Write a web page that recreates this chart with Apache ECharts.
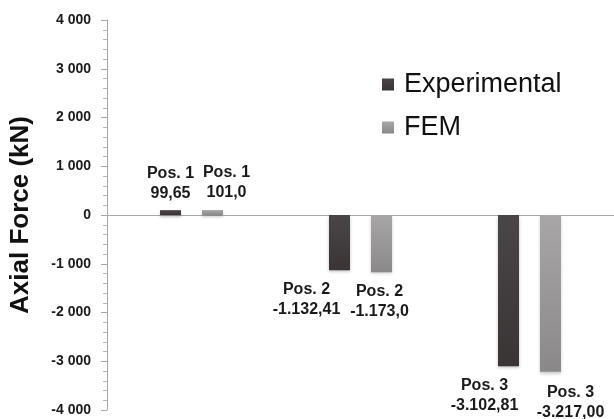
<!DOCTYPE html>
<html>
<head>
<meta charset="utf-8">
<script src="https://cdn.jsdelivr.net/npm/echarts@6/dist/echarts.min.js"></script>
<style>
  html, body { margin: 0; padding: 0; background: #fff; }
  #chart { width: 614px; height: 419px; }
</style>
</head>
<body>
<div id="chart"></div>
<script>
// data
var positions = ["Pos. 1", "Pos. 2", "Pos. 3"];
var experimental = [99.65, -1132.41, -3102.81];
var fem = [101.0, -1173.0, -3217.0];
var experimentalText = ["99,65", "-1.132,41", "-3.102,81"];
var femText = ["101,0", "-1.173,0", "-3.217,00"];
var yTicks = [-4000, -3000, -2000, -1000, 0, 1000, 2000, 3000, 4000];

// label nudges (px), to sit like the original
var expOffsets = [[0, 0], [-33, 2], [-24, 2]];
var femOffsets = [[14, 0], [-2, 2], [20, 4]];

var chart = echarts.init(document.getElementById("chart"));

function tickFmt(v) {
  var s = Math.abs(v).toString();
  if (s.length > 3) s = s.slice(0, s.length - 3) + " " + s.slice(-3);
  return (v < 0 ? "-" : "") + s;
}

function makeData(values, texts, offsets) {
  return values.map(function (v, i) {
    return {
      value: v,
      label: {
        position: v >= 0 ? "top" : "bottom",
        offset: offsets[i],
        formatter: positions[i] + "\n" + texts[i],
      },
    };
  });
}

var labelStyle = {
  show: true,
  color: "#1a1a1a",
  fontFamily: "Liberation Sans",
  fontWeight: "bold",
  fontSize: 16,
  lineHeight: 20,
  distance: 7,
};

var option = {
  animation: false,
  backgroundColor: "#fff",
  legend: {
    orient: "vertical",
    left: 377,
    top: 66,
    icon: "rect",
    itemWidth: 12,
    itemHeight: 12,
    itemGap: 16,
    textStyle: {
      fontFamily: "Liberation Sans",
      fontSize: 27,
      color: "#111",
      padding: [0, 0, 0, 5],
    },
    data: ["Experimental", "FEM"],
  },
  grid: {
    left: 107,
    top: 20,
    width: 512,
    height: 390,
  },
  xAxis: {
    type: "category",
    data: positions,
    axisLine: { onZero: true, lineStyle: { color: "#a8a8a8", width: 1 } },
    axisTick: { show: false },
    axisLabel: { show: false },
    splitLine: { show: false },
  },
  yAxis: {
    type: "value",
    min: yTicks[0],
    max: yTicks[yTicks.length - 1],
    interval: 1000,
    name: "Axial Force (kN)",
    nameLocation: "middle",
    nameGap: 73,
    nameTextStyle: {
      fontFamily: "Liberation Sans",
      fontWeight: "bold",
      fontSize: 26,
      color: "#111",
    },
    axisLine: { show: true, lineStyle: { color: "#a8a8a8" } },
    axisTick: { show: true, length: 6, lineStyle: { color: "#a8a8a8" } },
    minorTick: { show: true, splitNumber: 5, length: 4, lineStyle: { color: "#b8b8b8" } },
    splitLine: { show: false },
    axisLabel: {
      margin: 16,
      fontFamily: "Liberation Sans",
      fontWeight: "bold",
      fontSize: 14,
      color: "#1a1a1a",
      formatter: tickFmt,
    },
  },
  series: [
    {
      name: "Experimental",
      type: "bar",
      barWidth: 21,
      barGap: "100%",
      itemStyle: {
        color: new echarts.graphic.LinearGradient(0, 0, 0, 1, [
          { offset: 0, color: "#4a4546" },
          { offset: 1, color: "#3a3435" },
        ]),
        shadowColor: "rgba(0,0,0,0.25)",
        shadowBlur: 3,
        shadowOffsetY: 2,
      },
      label: labelStyle,
      data: makeData(experimental, experimentalText, expOffsets),
    },
    {
      name: "FEM",
      type: "bar",
      barWidth: 21,
      itemStyle: {
        color: new echarts.graphic.LinearGradient(0, 0, 0, 1, [
          { offset: 0, color: "#a8a6a6" },
          { offset: 1, color: "#8a8888" },
        ]),
        shadowColor: "rgba(0,0,0,0.2)",
        shadowBlur: 3,
        shadowOffsetY: 2,
      },
      label: labelStyle,
      data: makeData(fem, femText, femOffsets),
    },
  ],
};

chart.setOption(option);
</script>
</body>
</html>
